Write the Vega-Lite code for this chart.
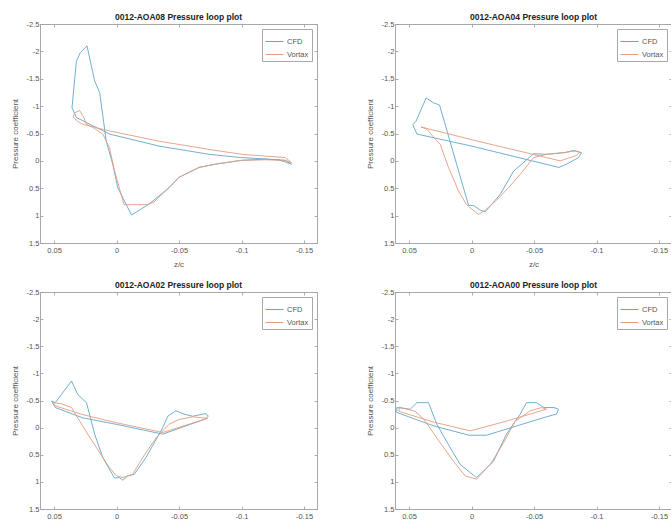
{
  "$schema": "https://vega.github.io/schema/vega-lite/v6.json",
  "padding": {"left": 10, "top": 12, "right": 0, "bottom": 0},
  "background": "white",
  "config": {
    "font": "Liberation Sans",
    "view": {"stroke": "#a8a8a8", "strokeWidth": 1},
    "axis": {
      "domain": false, "grid": false, "tickColor": "#9a9a9a", "tickSize": -3, "tickWidth": 0.8,
      "labelFont": "Liberation Sans", "labelFontSize": 7.5, "labelColor": "#555555", "labelPadding": 4,
      "titleFont": "Liberation Sans", "titleFontSize": 8, "titleFontWeight": "normal", "titleColor": "#555555"
    },
    "axisX": {"labelPadding": 6, "titlePadding": 7},
    "axisY": {"titlePadding": 7},
    "legend": {
      "orient": "top-right", "offset": 5, "strokeColor": "#a8a8a8", "fillColor": "white", "padding": 3,
      "symbolType": "stroke", "symbolSize": 324, "symbolStrokeWidth": 1, "labelFont": "Liberation Sans",
      "labelFontSize": 7.5, "labelColor": "#555555", "rowPadding": 0, "labelOffset": 3
    },
    "title": {"font": "Liberation Sans", "fontSize": 8.5, "fontWeight": "bold", "color": "#222222", "offset": -1.5, "anchor": "middle"}
  },
  "data": {"values": [
    {"p":"AOA08","s":"CFD","i":1,"x":-0.140,"y":0.06},
    {"p":"AOA08","s":"CFD","i":2,"x":-0.135,"y":-0.01},
    {"p":"AOA08","s":"CFD","i":3,"x":-0.119,"y":-0.03},
    {"p":"AOA08","s":"CFD","i":4,"x":-0.100,"y":-0.01},
    {"p":"AOA08","s":"CFD","i":5,"x":-0.079,"y":0.06},
    {"p":"AOA08","s":"CFD","i":6,"x":-0.066,"y":0.12},
    {"p":"AOA08","s":"CFD","i":7,"x":-0.050,"y":0.30},
    {"p":"AOA08","s":"CFD","i":8,"x":-0.042,"y":0.49},
    {"p":"AOA08","s":"CFD","i":9,"x":-0.026,"y":0.79},
    {"p":"AOA08","s":"CFD","i":10,"x":-0.012,"y":0.99},
    {"p":"AOA08","s":"CFD","i":11,"x":-0.001,"y":0.49},
    {"p":"AOA08","s":"CFD","i":12,"x":0.003,"y":0.06},
    {"p":"AOA08","s":"CFD","i":13,"x":0.0082,"y":-0.36},
    {"p":"AOA08","s":"CFD","i":14,"x":0.0135,"y":-1.25},
    {"p":"AOA08","s":"CFD","i":15,"x":0.0175,"y":-1.46},
    {"p":"AOA08","s":"CFD","i":16,"x":0.0236,"y":-2.10},
    {"p":"AOA08","s":"CFD","i":17,"x":0.0289,"y":-1.98},
    {"p":"AOA08","s":"CFD","i":18,"x":0.0321,"y":-1.82},
    {"p":"AOA08","s":"CFD","i":19,"x":0.0356,"y":-0.97},
    {"p":"AOA08","s":"CFD","i":20,"x":0.032,"y":-0.79},
    {"p":"AOA08","s":"CFD","i":21,"x":0.0056,"y":-0.49},
    {"p":"AOA08","s":"CFD","i":22,"x":-0.034,"y":-0.27},
    {"p":"AOA08","s":"CFD","i":23,"x":-0.074,"y":-0.12},
    {"p":"AOA08","s":"CFD","i":24,"x":-0.100,"y":-0.06},
    {"p":"AOA08","s":"CFD","i":25,"x":-0.130,"y":-0.02},
    {"p":"AOA08","s":"CFD","i":26,"x":-0.140,"y":0.06},
    {"p":"AOA08","s":"Vortax","i":1,"x":-0.140,"y":0.03},
    {"p":"AOA08","s":"Vortax","i":2,"x":-0.135,"y":-0.01},
    {"p":"AOA08","s":"Vortax","i":3,"x":-0.119,"y":-0.02},
    {"p":"AOA08","s":"Vortax","i":4,"x":-0.100,"y":-0.01},
    {"p":"AOA08","s":"Vortax","i":5,"x":-0.079,"y":0.06},
    {"p":"AOA08","s":"Vortax","i":6,"x":-0.066,"y":0.12},
    {"p":"AOA08","s":"Vortax","i":7,"x":-0.050,"y":0.30},
    {"p":"AOA08","s":"Vortax","i":8,"x":-0.042,"y":0.49},
    {"p":"AOA08","s":"Vortax","i":9,"x":-0.030,"y":0.75},
    {"p":"AOA08","s":"Vortax","i":10,"x":-0.025,"y":0.80},
    {"p":"AOA08","s":"Vortax","i":11,"x":-0.006,"y":0.80},
    {"p":"AOA08","s":"Vortax","i":12,"x":0.0016,"y":0.18},
    {"p":"AOA08","s":"Vortax","i":13,"x":0.0056,"y":-0.24},
    {"p":"AOA08","s":"Vortax","i":14,"x":0.011,"y":-0.49},
    {"p":"AOA08","s":"Vortax","i":15,"x":0.0189,"y":-0.61},
    {"p":"AOA08","s":"Vortax","i":16,"x":0.0242,"y":-0.67},
    {"p":"AOA08","s":"Vortax","i":17,"x":0.0263,"y":-0.80},
    {"p":"AOA08","s":"Vortax","i":18,"x":0.0295,"y":-0.92},
    {"p":"AOA08","s":"Vortax","i":19,"x":0.0334,"y":-0.88},
    {"p":"AOA08","s":"Vortax","i":20,"x":0.0348,"y":-0.80},
    {"p":"AOA08","s":"Vortax","i":21,"x":0.031,"y":-0.72},
    {"p":"AOA08","s":"Vortax","i":22,"x":0.027,"y":-0.67},
    {"p":"AOA08","s":"Vortax","i":23,"x":0.0056,"y":-0.546},
    {"p":"AOA08","s":"Vortax","i":24,"x":-0.034,"y":-0.36},
    {"p":"AOA08","s":"Vortax","i":25,"x":-0.074,"y":-0.21},
    {"p":"AOA08","s":"Vortax","i":26,"x":-0.100,"y":-0.12},
    {"p":"AOA08","s":"Vortax","i":27,"x":-0.135,"y":-0.06},
    {"p":"AOA08","s":"Vortax","i":28,"x":-0.140,"y":0.03},
    {"p":"AOA04","s":"CFD","i":1,"x":0.047,"y":-0.66},
    {"p":"AOA04","s":"CFD","i":2,"x":0.0445,"y":-0.72},
    {"p":"AOA04","s":"CFD","i":3,"x":0.0363,"y":-1.15},
    {"p":"AOA04","s":"CFD","i":4,"x":0.0304,"y":-1.06},
    {"p":"AOA04","s":"CFD","i":5,"x":0.0256,"y":-1.02},
    {"p":"AOA04","s":"CFD","i":6,"x":0.0024,"y":0.81},
    {"p":"AOA04","s":"CFD","i":7,"x":-0.002,"y":0.82},
    {"p":"AOA04","s":"CFD","i":8,"x":-0.007,"y":0.90},
    {"p":"AOA04","s":"CFD","i":9,"x":-0.011,"y":0.93},
    {"p":"AOA04","s":"CFD","i":10,"x":-0.023,"y":0.61},
    {"p":"AOA04","s":"CFD","i":11,"x":-0.0336,"y":0.19},
    {"p":"AOA04","s":"CFD","i":12,"x":-0.0496,"y":-0.13},
    {"p":"AOA04","s":"CFD","i":13,"x":-0.060,"y":-0.12},
    {"p":"AOA04","s":"CFD","i":14,"x":-0.074,"y":-0.15},
    {"p":"AOA04","s":"CFD","i":15,"x":-0.082,"y":-0.19},
    {"p":"AOA04","s":"CFD","i":16,"x":-0.088,"y":-0.15},
    {"p":"AOA04","s":"CFD","i":17,"x":-0.0856,"y":-0.06},
    {"p":"AOA04","s":"CFD","i":18,"x":-0.076,"y":0.06},
    {"p":"AOA04","s":"CFD","i":19,"x":-0.070,"y":0.12},
    {"p":"AOA04","s":"CFD","i":20,"x":0.0,"y":-0.27},
    {"p":"AOA04","s":"CFD","i":21,"x":0.0437,"y":-0.49},
    {"p":"AOA04","s":"CFD","i":22,"x":0.047,"y":-0.66},
    {"p":"AOA04","s":"Vortax","i":1,"x":0.0405,"y":-0.62},
    {"p":"AOA04","s":"Vortax","i":2,"x":0.0357,"y":-0.58},
    {"p":"AOA04","s":"Vortax","i":3,"x":0.031,"y":-0.45},
    {"p":"AOA04","s":"Vortax","i":4,"x":0.025,"y":-0.30},
    {"p":"AOA04","s":"Vortax","i":5,"x":0.0184,"y":0.12},
    {"p":"AOA04","s":"Vortax","i":6,"x":0.0104,"y":0.55},
    {"p":"AOA04","s":"Vortax","i":7,"x":0.004,"y":0.80},
    {"p":"AOA04","s":"Vortax","i":8,"x":-0.0056,"y":0.98},
    {"p":"AOA04","s":"Vortax","i":9,"x":-0.011,"y":0.90},
    {"p":"AOA04","s":"Vortax","i":10,"x":-0.020,"y":0.72},
    {"p":"AOA04","s":"Vortax","i":11,"x":-0.030,"y":0.48},
    {"p":"AOA04","s":"Vortax","i":12,"x":-0.039,"y":0.245},
    {"p":"AOA04","s":"Vortax","i":13,"x":-0.0496,"y":-0.06},
    {"p":"AOA04","s":"Vortax","i":14,"x":-0.060,"y":-0.12},
    {"p":"AOA04","s":"Vortax","i":15,"x":-0.074,"y":-0.15},
    {"p":"AOA04","s":"Vortax","i":16,"x":-0.082,"y":-0.18},
    {"p":"AOA04","s":"Vortax","i":17,"x":-0.0865,"y":-0.16},
    {"p":"AOA04","s":"Vortax","i":18,"x":-0.084,"y":-0.10},
    {"p":"AOA04","s":"Vortax","i":19,"x":-0.071,"y":0.0},
    {"p":"AOA04","s":"Vortax","i":20,"x":0.0,"y":-0.387},
    {"p":"AOA04","s":"Vortax","i":21,"x":0.0405,"y":-0.62},
    {"p":"AOA02","s":"CFD","i":1,"x":0.052,"y":-0.49},
    {"p":"AOA02","s":"CFD","i":2,"x":0.049,"y":-0.46},
    {"p":"AOA02","s":"CFD","i":3,"x":0.036,"y":-0.86},
    {"p":"AOA02","s":"CFD","i":4,"x":0.031,"y":-0.61},
    {"p":"AOA02","s":"CFD","i":5,"x":0.024,"y":-0.46},
    {"p":"AOA02","s":"CFD","i":6,"x":0.0175,"y":0.12},
    {"p":"AOA02","s":"CFD","i":7,"x":0.011,"y":0.55},
    {"p":"AOA02","s":"CFD","i":8,"x":0.0016,"y":0.93},
    {"p":"AOA02","s":"CFD","i":9,"x":-0.0024,"y":0.92},
    {"p":"AOA02","s":"CFD","i":10,"x":-0.005,"y":0.97},
    {"p":"AOA02","s":"CFD","i":11,"x":-0.009,"y":0.89},
    {"p":"AOA02","s":"CFD","i":12,"x":-0.0143,"y":0.86},
    {"p":"AOA02","s":"CFD","i":13,"x":-0.0236,"y":0.55},
    {"p":"AOA02","s":"CFD","i":14,"x":-0.037,"y":0.0},
    {"p":"AOA02","s":"CFD","i":15,"x":-0.041,"y":-0.21},
    {"p":"AOA02","s":"CFD","i":16,"x":-0.0475,"y":-0.31},
    {"p":"AOA02","s":"CFD","i":17,"x":-0.054,"y":-0.25},
    {"p":"AOA02","s":"CFD","i":18,"x":-0.061,"y":-0.21},
    {"p":"AOA02","s":"CFD","i":19,"x":-0.0714,"y":-0.26},
    {"p":"AOA02","s":"CFD","i":20,"x":-0.0735,"y":-0.21},
    {"p":"AOA02","s":"CFD","i":21,"x":-0.070,"y":-0.15},
    {"p":"AOA02","s":"CFD","i":22,"x":-0.037,"y":0.12},
    {"p":"AOA02","s":"CFD","i":23,"x":0.0,"y":-0.06},
    {"p":"AOA02","s":"CFD","i":24,"x":0.027,"y":-0.18},
    {"p":"AOA02","s":"CFD","i":25,"x":0.049,"y":-0.37},
    {"p":"AOA02","s":"CFD","i":26,"x":0.052,"y":-0.49},
    {"p":"AOA02","s":"Vortax","i":1,"x":0.0507,"y":-0.46},
    {"p":"AOA02","s":"Vortax","i":2,"x":0.044,"y":-0.44},
    {"p":"AOA02","s":"Vortax","i":3,"x":0.036,"y":-0.37},
    {"p":"AOA02","s":"Vortax","i":4,"x":0.0255,"y":0.03},
    {"p":"AOA02","s":"Vortax","i":5,"x":0.016,"y":0.37},
    {"p":"AOA02","s":"Vortax","i":6,"x":0.0056,"y":0.74},
    {"p":"AOA02","s":"Vortax","i":7,"x":0.0,"y":0.89},
    {"p":"AOA02","s":"Vortax","i":8,"x":-0.005,"y":0.92},
    {"p":"AOA02","s":"Vortax","i":9,"x":-0.013,"y":0.86},
    {"p":"AOA02","s":"Vortax","i":10,"x":-0.021,"y":0.55},
    {"p":"AOA02","s":"Vortax","i":11,"x":-0.0316,"y":0.19},
    {"p":"AOA02","s":"Vortax","i":12,"x":-0.042,"y":-0.06},
    {"p":"AOA02","s":"Vortax","i":13,"x":-0.050,"y":-0.15},
    {"p":"AOA02","s":"Vortax","i":14,"x":-0.061,"y":-0.20},
    {"p":"AOA02","s":"Vortax","i":15,"x":-0.0727,"y":-0.17},
    {"p":"AOA02","s":"Vortax","i":16,"x":-0.037,"y":0.09},
    {"p":"AOA02","s":"Vortax","i":17,"x":0.0,"y":-0.09},
    {"p":"AOA02","s":"Vortax","i":18,"x":0.027,"y":-0.24},
    {"p":"AOA02","s":"Vortax","i":19,"x":0.049,"y":-0.40},
    {"p":"AOA02","s":"Vortax","i":20,"x":0.0507,"y":-0.46},
    {"p":"AOA00","s":"CFD","i":1,"x":0.0598,"y":-0.37},
    {"p":"AOA00","s":"CFD","i":2,"x":0.049,"y":-0.34},
    {"p":"AOA00","s":"CFD","i":3,"x":0.0437,"y":-0.46},
    {"p":"AOA00","s":"CFD","i":4,"x":0.0344,"y":-0.46},
    {"p":"AOA00","s":"CFD","i":5,"x":0.0277,"y":-0.06},
    {"p":"AOA00","s":"CFD","i":6,"x":0.017,"y":0.37},
    {"p":"AOA00","s":"CFD","i":7,"x":0.009,"y":0.68},
    {"p":"AOA00","s":"CFD","i":8,"x":0.001,"y":0.83},
    {"p":"AOA00","s":"CFD","i":9,"x":-0.004,"y":0.92},
    {"p":"AOA00","s":"CFD","i":10,"x":-0.011,"y":0.77},
    {"p":"AOA00","s":"CFD","i":11,"x":-0.0176,"y":0.62},
    {"p":"AOA00","s":"CFD","i":12,"x":-0.028,"y":0.12},
    {"p":"AOA00","s":"CFD","i":13,"x":-0.039,"y":-0.25},
    {"p":"AOA00","s":"CFD","i":14,"x":-0.044,"y":-0.46},
    {"p":"AOA00","s":"CFD","i":15,"x":-0.052,"y":-0.46},
    {"p":"AOA00","s":"CFD","i":16,"x":-0.058,"y":-0.37},
    {"p":"AOA00","s":"CFD","i":17,"x":-0.066,"y":-0.37},
    {"p":"AOA00","s":"CFD","i":18,"x":-0.0696,"y":-0.34},
    {"p":"AOA00","s":"CFD","i":19,"x":-0.068,"y":-0.25},
    {"p":"AOA00","s":"CFD","i":20,"x":-0.060,"y":-0.20},
    {"p":"AOA00","s":"CFD","i":21,"x":-0.012,"y":0.14},
    {"p":"AOA00","s":"CFD","i":22,"x":0.002,"y":0.14},
    {"p":"AOA00","s":"CFD","i":23,"x":0.030,"y":-0.03},
    {"p":"AOA00","s":"CFD","i":24,"x":0.0598,"y":-0.28},
    {"p":"AOA00","s":"CFD","i":25,"x":0.0598,"y":-0.37},
    {"p":"AOA00","s":"Vortax","i":1,"x":0.058,"y":-0.38},
    {"p":"AOA00","s":"Vortax","i":2,"x":0.045,"y":-0.30},
    {"p":"AOA00","s":"Vortax","i":3,"x":0.038,"y":-0.15},
    {"p":"AOA00","s":"Vortax","i":4,"x":0.025,"y":0.28},
    {"p":"AOA00","s":"Vortax","i":5,"x":0.0144,"y":0.62},
    {"p":"AOA00","s":"Vortax","i":6,"x":0.005,"y":0.89},
    {"p":"AOA00","s":"Vortax","i":7,"x":-0.004,"y":0.95},
    {"p":"AOA00","s":"Vortax","i":8,"x":-0.015,"y":0.68},
    {"p":"AOA00","s":"Vortax","i":9,"x":-0.0256,"y":0.28},
    {"p":"AOA00","s":"Vortax","i":10,"x":-0.035,"y":-0.12},
    {"p":"AOA00","s":"Vortax","i":11,"x":-0.047,"y":-0.31},
    {"p":"AOA00","s":"Vortax","i":12,"x":-0.056,"y":-0.37},
    {"p":"AOA00","s":"Vortax","i":13,"x":-0.060,"y":-0.34},
    {"p":"AOA00","s":"Vortax","i":14,"x":-0.028,"y":-0.12},
    {"p":"AOA00","s":"Vortax","i":15,"x":0.001,"y":0.06},
    {"p":"AOA00","s":"Vortax","i":16,"x":0.030,"y":-0.10},
    {"p":"AOA00","s":"Vortax","i":17,"x":0.058,"y":-0.30},
    {"p":"AOA00","s":"Vortax","i":18,"x":0.058,"y":-0.38}
  ]},
  "columns": 2,
  "spacing": {"row": 49, "column": 78},
  "bounds": "flush",
  "resolve": {"scale": {"color": "independent"}, "legend": {"color": "independent"}},
  "concat": [
    {
      "title": "0012-AOA08 Pressure loop plot",
      "width": 277, "height": 219,
      "transform": [{"filter": "datum.p == 'AOA08'"}],
      "layer": [
        {"mark": {"type": "line", "strokeWidth": 0.9, "clip": true},
         "encoding": {
           "x": {"field": "x", "type": "quantitative", "scale": {"domain": [-0.1604, 0.0612], "reverse": true, "nice": false, "zero": false},
                 "axis": {"values": [0.05, 0, -0.05, -0.1, -0.15], "labelExpr": "'' + datum.value", "title": "z/c"}},
           "y": {"field": "y", "type": "quantitative", "scale": {"domain": [-2.5, 1.5], "reverse": true, "nice": false, "zero": false},
                 "axis": {"values": [-2.5, -2, -1.5, -1, -0.5, 0, 0.5, 1, 1.5], "labelExpr": "'' + datum.value", "title": "Pressure coefficient"}},
           "color": {"field": "s", "type": "nominal", "scale": {"domain": ["CFD", "Vortax"], "range": ["#62a6c9", "#e39c80"]},
                     "legend": {"title": null, "encode": {"symbols": {"update": {"stroke": {"signal": "datum.value == 'CFD' ? '#62a6c9' : '#e39c80'"}, "strokeWidth": {"value": 1}}}}}},
           "order": {"field": "i", "type": "quantitative"}
         }},
        {"mark": {"type": "point", "opacity": 0},
         "encoding": {
           "x": {"field": "x", "type": "quantitative", "scale": {"domain": [-0.1604, 0.0612], "reverse": true, "nice": false, "zero": false},
                 "axis": {"orient": "top", "values": [0.05, 0, -0.05, -0.1, -0.15], "labels": false, "title": null}},
           "y": {"field": "y", "type": "quantitative", "scale": {"domain": [-2.5, 1.5], "reverse": true, "nice": false, "zero": false},
                 "axis": {"orient": "right", "values": [-2.5, -2, -1.5, -1, -0.5, 0, 0.5, 1, 1.5], "labels": false, "title": null}}
         }}
      ],
      "resolve": {"axis": {"x": "independent", "y": "independent"}}
    },
    {
      "title": "0012-AOA04 Pressure loop plot",
      "width": 277, "height": 219,
      "transform": [{"filter": "datum.p == 'AOA04'"}],
      "layer": [
        {"mark": {"type": "line", "strokeWidth": 0.9, "clip": true},
         "encoding": {
           "x": {"field": "x", "type": "quantitative", "scale": {"domain": [-0.1604, 0.0612], "reverse": true, "nice": false, "zero": false},
                 "axis": {"values": [0.05, 0, -0.05, -0.1, -0.15], "labelExpr": "'' + datum.value", "title": "z/c"}},
           "y": {"field": "y", "type": "quantitative", "scale": {"domain": [-2.5, 1.5], "reverse": true, "nice": false, "zero": false},
                 "axis": {"values": [-2.5, -2, -1.5, -1, -0.5, 0, 0.5, 1, 1.5], "labelExpr": "'' + datum.value", "title": "Pressure coefficient"}},
           "color": {"field": "s", "type": "nominal", "scale": {"domain": ["CFD", "Vortax"], "range": ["#62a6c9", "#e39c80"]},
                     "legend": {"title": null, "encode": {"symbols": {"update": {"stroke": {"signal": "datum.value == 'CFD' ? '#62a6c9' : '#e39c80'"}, "strokeWidth": {"value": 1}}}}}},
           "order": {"field": "i", "type": "quantitative"}
         }},
        {"mark": {"type": "point", "opacity": 0},
         "encoding": {
           "x": {"field": "x", "type": "quantitative", "scale": {"domain": [-0.1604, 0.0612], "reverse": true, "nice": false, "zero": false},
                 "axis": {"orient": "top", "values": [0.05, 0, -0.05, -0.1, -0.15], "labels": false, "title": null}},
           "y": {"field": "y", "type": "quantitative", "scale": {"domain": [-2.5, 1.5], "reverse": true, "nice": false, "zero": false},
                 "axis": {"orient": "right", "values": [-2.5, -2, -1.5, -1, -0.5, 0, 0.5, 1, 1.5], "labels": false, "title": null}}
         }}
      ],
      "resolve": {"axis": {"x": "independent", "y": "independent"}}
    },
    {
      "title": "0012-AOA02 Pressure loop plot",
      "width": 277, "height": 217,
      "transform": [{"filter": "datum.p == 'AOA02'"}],
      "layer": [
        {"mark": {"type": "line", "strokeWidth": 0.9, "clip": true},
         "encoding": {
           "x": {"field": "x", "type": "quantitative", "scale": {"domain": [-0.1604, 0.0612], "reverse": true, "nice": false, "zero": false},
                 "axis": {"values": [0.05, 0, -0.05, -0.1, -0.15], "labelExpr": "'' + datum.value", "title": null}},
           "y": {"field": "y", "type": "quantitative", "scale": {"domain": [-2.5, 1.5], "reverse": true, "nice": false, "zero": false},
                 "axis": {"values": [-2.5, -2, -1.5, -1, -0.5, 0, 0.5, 1, 1.5], "labelExpr": "'' + datum.value", "title": "Pressure coefficient"}},
           "color": {"field": "s", "type": "nominal", "scale": {"domain": ["CFD", "Vortax"], "range": ["#62a6c9", "#e39c80"]},
                     "legend": {"title": null, "encode": {"symbols": {"update": {"stroke": {"signal": "datum.value == 'CFD' ? '#62a6c9' : '#e39c80'"}, "strokeWidth": {"value": 1}}}}}},
           "order": {"field": "i", "type": "quantitative"}
         }},
        {"mark": {"type": "point", "opacity": 0},
         "encoding": {
           "x": {"field": "x", "type": "quantitative", "scale": {"domain": [-0.1604, 0.0612], "reverse": true, "nice": false, "zero": false},
                 "axis": {"orient": "top", "values": [0.05, 0, -0.05, -0.1, -0.15], "labels": false, "title": null}},
           "y": {"field": "y", "type": "quantitative", "scale": {"domain": [-2.5, 1.5], "reverse": true, "nice": false, "zero": false},
                 "axis": {"orient": "right", "values": [-2.5, -2, -1.5, -1, -0.5, 0, 0.5, 1, 1.5], "labels": false, "title": null}}
         }}
      ],
      "resolve": {"axis": {"x": "independent", "y": "independent"}}
    },
    {
      "title": "0012-AOA00 Pressure loop plot",
      "width": 277, "height": 217,
      "transform": [{"filter": "datum.p == 'AOA00'"}],
      "layer": [
        {"mark": {"type": "line", "strokeWidth": 0.9, "clip": true},
         "encoding": {
           "x": {"field": "x", "type": "quantitative", "scale": {"domain": [-0.1604, 0.0612], "reverse": true, "nice": false, "zero": false},
                 "axis": {"values": [0.05, 0, -0.05, -0.1, -0.15], "labelExpr": "'' + datum.value", "title": null}},
           "y": {"field": "y", "type": "quantitative", "scale": {"domain": [-2.5, 1.5], "reverse": true, "nice": false, "zero": false},
                 "axis": {"values": [-2.5, -2, -1.5, -1, -0.5, 0, 0.5, 1, 1.5], "labelExpr": "'' + datum.value", "title": "Pressure coefficient"}},
           "color": {"field": "s", "type": "nominal", "scale": {"domain": ["CFD", "Vortax"], "range": ["#62a6c9", "#e39c80"]},
                     "legend": {"title": null, "encode": {"symbols": {"update": {"stroke": {"signal": "datum.value == 'CFD' ? '#62a6c9' : '#e39c80'"}, "strokeWidth": {"value": 1}}}}}},
           "order": {"field": "i", "type": "quantitative"}
         }},
        {"mark": {"type": "point", "opacity": 0},
         "encoding": {
           "x": {"field": "x", "type": "quantitative", "scale": {"domain": [-0.1604, 0.0612], "reverse": true, "nice": false, "zero": false},
                 "axis": {"orient": "top", "values": [0.05, 0, -0.05, -0.1, -0.15], "labels": false, "title": null}},
           "y": {"field": "y", "type": "quantitative", "scale": {"domain": [-2.5, 1.5], "reverse": true, "nice": false, "zero": false},
                 "axis": {"orient": "right", "values": [-2.5, -2, -1.5, -1, -0.5, 0, 0.5, 1, 1.5], "labels": false, "title": null}}
         }}
      ],
      "resolve": {"axis": {"x": "independent", "y": "independent"}}
    }
  ]
}
